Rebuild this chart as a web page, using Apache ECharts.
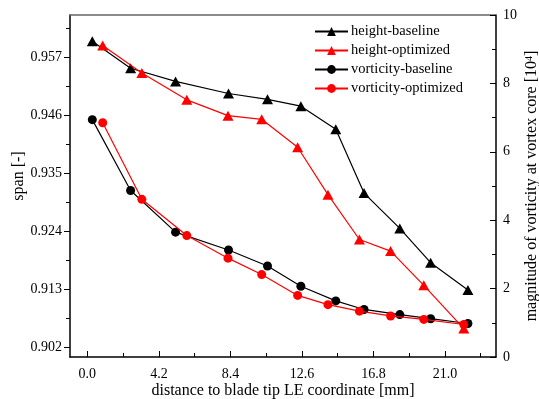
<!DOCTYPE html>
<html>
<head>
<meta charset="utf-8">
<script src="https://cdn.jsdelivr.net/npm/echarts@6/dist/echarts.min.js"></script>
<style>
  html, body { margin: 0; padding: 0; background: #fff; }
  #chart { width: 539px; height: 399px; }
</style>
</head>
<body>
<div id="chart"></div>
<script>
// x positions (distance to blade tip LE coordinate, mm)
const baselineX = [0.29, 2.54, 5.18, 8.29, 10.58, 12.54, 14.59, 16.25, 18.35, 20.16, 22.35];
const optimizedX = [0.9, 3.2, 5.84, 8.26, 10.24, 12.35, 14.13, 15.98, 17.81, 19.76, 22.11];

// span [-] (left axis)
const heightBaseline = [0.9600, 0.9549, 0.9524, 0.9501, 0.9490, 0.9477, 0.9433, 0.9312, 0.9245, 0.9180, 0.9128];
const heightOptimized = [0.9592, 0.9540, 0.9489, 0.9459, 0.9452, 0.9399, 0.9309, 0.9224, 0.9202, 0.9137, 0.9055];

// vorticity magnitude [10^4] (right axis)
const vorticityBaseline = [6.94, 4.87, 3.65, 3.13, 2.66, 2.07, 1.64, 1.39, 1.24, 1.12, 0.98];
const vorticityOptimized = [6.85, 4.61, 3.55, 2.89, 2.41, 1.80, 1.53, 1.34, 1.20, 1.10, 0.95];

// tick labels
const xTicks = [0, 4.2, 8.4, 12.6, 16.8, 21.0];
const xMinorTicks = [2.1, 6.3, 10.5, 14.7, 18.9, 23.1];
const spanTicks = [0.902, 0.913, 0.924, 0.935, 0.946, 0.957];
const spanMinorTicks = [0.9075, 0.9185, 0.9295, 0.9405, 0.9515, 0.9625];

const FONT = "Liberation Serif";
const zip = (xs, ys) => xs.map((x, i) => [x, ys[i]]);

const chart = echarts.init(document.getElementById("chart"));

const xRange = { min: -1.02, max: 24.0 };
const spanRange = { min: 0.9001, max: 0.9650 };

const option = {
  animation: false,
  backgroundColor: "#fff",
  grid: { left: 70, right: 43, top: 15, bottom: 42, containLabel: false, outerBoundsMode: "none" },
  legend: {
    orient: "vertical",
    left: 309,
    top: 19,
    itemWidth: 33,
    itemHeight: 11,
    itemGap: 4,
    textStyle: { fontFamily: FONT, fontSize: 14.5, color: "#000", padding: [0, 0, 0, -2] },
    data: ["height-baseline", "height-optimized", "vorticity-baseline", "vorticity-optimized"]
  },
  xAxis: [
    {
      type: "value",
      position: "bottom",
      ...xRange,
      name: "distance to blade tip LE coordinate [mm]",
      nameLocation: "middle",
      nameGap: 26,
      nameMoveOverlap: false,
      nameTextStyle: { fontFamily: FONT, fontSize: 16, color: "#000" },
      axisLine: { show: true, onZero: false, lineStyle: { color: "#000", width: 1.5 } },
      axisTick: { show: true, inside: true, length: 6, customValues: xTicks, lineStyle: { color: "#000" } },
      axisLabel: {
        customValues: xTicks,
        margin: 10,
        fontFamily: FONT, fontSize: 14, color: "#000",
        formatter: (v) => v.toFixed(1)
      },
      splitLine: { show: false }
    },
    {
      // minor ticks
      type: "value",
      position: "bottom",
      ...xRange,
      axisLine: { show: false, onZero: false },
      axisTick: { show: true, inside: true, length: 4, customValues: xMinorTicks, lineStyle: { color: "#000" } },
      axisLabel: { show: false },
      splitLine: { show: false }
    },
    {
      // top frame
      type: "value",
      position: "top",
      ...xRange,
      axisLine: { show: true, onZero: false, lineStyle: { color: "#666", width: 1.5 } },
      axisTick: { show: false },
      axisLabel: { show: false },
      splitLine: { show: false }
    }
  ],
  yAxis: [
    {
      type: "value",
      position: "left",
      ...spanRange,
      name: "span [-]",
      nameLocation: "middle",
      nameGap: 43,
      nameMoveOverlap: false,
      nameRotate: 90,
      nameTextStyle: { fontFamily: FONT, fontSize: 16, color: "#000", padding: [0, 0, 0, 20] },
      axisLine: { show: true, onZero: false, lineStyle: { color: "#000", width: 1.5 } },
      axisTick: { show: true, inside: false, length: 6, customValues: spanTicks, lineStyle: { color: "#000" } },
      axisLabel: {
        customValues: spanTicks,
        margin: 8,
        fontFamily: FONT, fontSize: 14, color: "#000",
        formatter: (v) => v.toFixed(3)
      },
      splitLine: { show: false }
    },
    {
      type: "value",
      position: "right",
      min: 0,
      max: 10,
      interval: 2,
      name: "{a|magnitude of vorticity at vortex core [10}{s|4}{a|]}",
      nameLocation: "middle",
      nameGap: 28,
      nameMoveOverlap: false,
      nameRotate: 90,
      nameTextStyle: {
        fontFamily: FONT, fontSize: 16, color: "#000",
        rich: {
          a: { fontFamily: FONT, fontSize: 16, color: "#000" },
          s: { fontFamily: FONT, fontSize: 10, color: "#000", verticalAlign: "top", padding: [0, 0, 6, 0] }
        }
      },
      axisLine: { show: true, onZero: false, lineStyle: { color: "#000", width: 1.5 } },
      axisTick: { show: true, inside: true, length: 6, lineStyle: { color: "#000" } },
      minorTick: { show: true, splitNumber: 2, length: 4, lineStyle: { color: "#000" } },
      axisLabel: { margin: 7, fontFamily: FONT, fontSize: 14, color: "#000" },
      splitLine: { show: false }
    },
    {
      // minor ticks for span axis
      type: "value",
      position: "left",
      ...spanRange,
      axisLine: { show: false, onZero: false },
      axisTick: { show: true, inside: false, length: 4, customValues: spanMinorTicks, lineStyle: { color: "#000" } },
      axisLabel: { show: false },
      splitLine: { show: false }
    }
  ],
  series: [
    {
      name: "height-baseline",
      type: "line",
      xAxisIndex: 0,
      yAxisIndex: 0,
      data: zip(baselineX, heightBaseline),
      symbol: "triangle",
      symbolSize: [11, 10],
      lineStyle: { color: "#000", width: 1.2 },
      itemStyle: { color: "#000" },
      z: 3
    },
    {
      name: "height-optimized",
      type: "line",
      xAxisIndex: 0,
      yAxisIndex: 0,
      data: zip(optimizedX, heightOptimized),
      symbol: "triangle",
      symbolSize: [11, 10],
      lineStyle: { color: "#f00", width: 1.2 },
      itemStyle: { color: "#f00" },
      z: 4
    },
    {
      name: "vorticity-baseline",
      type: "line",
      xAxisIndex: 0,
      yAxisIndex: 1,
      data: zip(baselineX, vorticityBaseline),
      symbol: "circle",
      symbolSize: 9,
      lineStyle: { color: "#000", width: 1.2 },
      itemStyle: { color: "#000" },
      z: 3
    },
    {
      name: "vorticity-optimized",
      type: "line",
      xAxisIndex: 0,
      yAxisIndex: 1,
      data: zip(optimizedX, vorticityOptimized),
      symbol: "circle",
      symbolSize: 9,
      lineStyle: { color: "#f00", width: 1.2 },
      itemStyle: { color: "#f00" },
      z: 4
    }
  ]
};

chart.setOption(option);
</script>
</body>
</html>
